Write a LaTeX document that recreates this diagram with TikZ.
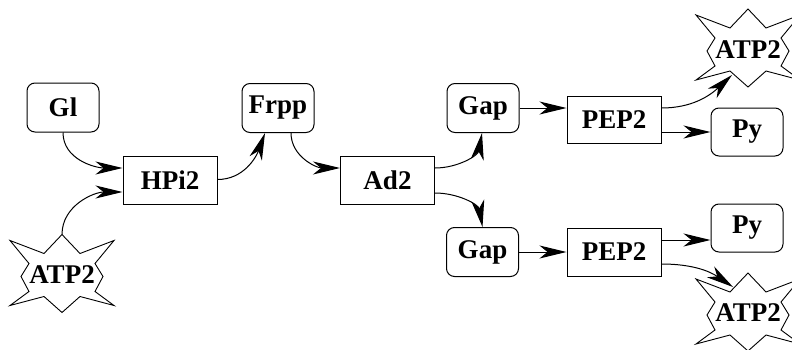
\documentclass[tikz,border=0pt]{standalone}
\usepackage{fontspec}
\setmainfont{Liberation Serif}[BoldFont={Liberation Serif Bold}]
\usetikzlibrary{arrows.meta,calc}
\tikzset{
  base/.style={font=\bfseries\fontsize{27}{29}\selectfont, line width=1pt, inner sep=0pt},
  rbox/.style={base, draw, rounded corners=8pt, minimum width=72pt, minimum height=49pt},
  sbox/.style={base, draw, minimum width=94pt, minimum height=48pt},
  startext/.style={base},
  arr/.style={line width=1pt, -{Stealth[length=27pt,width=13pt,inset=8pt]}},
  starline/.style={line width=0.9pt, line join=miter}
}
\newcommand{\burstat}[1]{%
  \draw[starline, shift={#1}] (0,39) -- (18,20) -- (52,33) -- (33,10) -- (41,-3) -- (33,-18) -- (52,-32) -- (18,-23) -- (0,-39) -- (-18,-23) -- (-52,-32) -- (-33,-18) -- (-41,-3) -- (-33,10) -- (-52,33) -- (-18,20) -- cycle;}
\begin{document}
\begin{tikzpicture}[x=1pt,y=1pt]
\useasboundingbox (0,0) rectangle (792,349);
\clip (0,0) rectangle (792,349);
\node[rbox] (gl) at (63,241.5) {Gl};
\node[sbox] (hpi) at (170,168.5) {HPi2};
\node[rbox] (frpp) at (278,241) {Frpp};
\node[sbox] (ad) at (387.5,169) {Ad2};
\node[rbox] (gapT) at (483,241) {Gap};
\node[rbox] (gapB) at (482.5,97) {Gap};
\node[sbox, minimum height=47pt] (pepT) at (614,229.5) {PEP2};
\node[sbox] (pepB) at (614,97) {PEP2};
\node[rbox, minimum height=48pt] (pyT) at (747,217) {Py};
\node[rbox, minimum height=48pt] (pyB) at (747,121) {Py};
\node[startext] (atpL) at (62,74.5) {ATP2};
\node[startext] (atpT) at (748,299) {ATP2};
\node[startext] (atpB) at (748,36) {ATP2};
\burstat{(62,75.5)}
\burstat{(748,301)}
\burstat{(748,37)}
\coordinate (atpLtop) at (62,114.5);
\coordinate (atpTin) at (732,274);
\coordinate (atpBin) at (733,62);
\draw[arr] (gl.south) to[out=-90,in=180] ($(hpi.west)+(0,12.5)$);
\draw[arr] (atpLtop) to[out=90,in=180] ($(hpi.west)+(0,-11.5)$);
\draw[arr] ($(hpi.east)+(0,1)$) to[out=0,in=-110] ($(frpp.south)+(-13,0)$);
\draw[arr] ($(frpp.south)+(13,0)$) to[out=-90,in=180] ($(ad.west)+(0,12)$);
\draw[arr] ($(ad.east)+(0,12)$) to[out=0,in=-100] ($(gapT.south)+(-1,0)$);
\draw[arr] ($(ad.east)+(0,-13)$) to[out=0,in=100] (gapB.north);
\draw[arr] (gapT.east) -- (gapT.east -| pepT.west);
\draw[arr] (gapB.east) -- (pepB.west);
\draw[arr] ($(pepT.east)+(0,11.5)$) to[out=0,in=-137] (atpTin);
\draw[arr] ($(pepT.east)+(0,-12.5)$) -- (pyT.west);
\draw[arr] ($(pepB.east)+(0,12)$) -- ($(pyB.west)+(0,-12)$);
\draw[arr] ($(pepB.east)+(0,-12)$) to[out=0,in=146] (atpBin);
\end{tikzpicture}
\end{document}
